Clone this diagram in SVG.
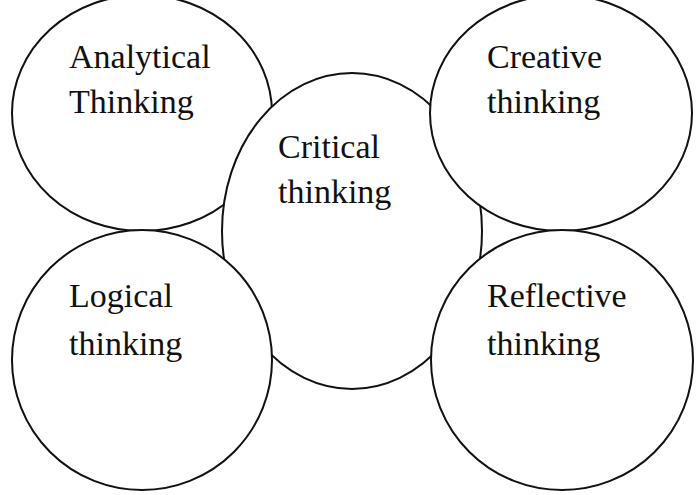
<svg xmlns="http://www.w3.org/2000/svg" width="696" height="495" viewBox="0 0 696 495">
<style>
.n{fill:#fff;stroke:#111;stroke-width:2}
.t{font-family:"Liberation Serif","Times New Roman",serif;font-size:34px;fill:#111}
</style>
<rect width="696" height="495" fill="#fff"/>
<g id="connectors"></g>
<g id="analytical">
<ellipse class="n" cx="142" cy="113" rx="130" ry="118"/>
<text class="t" x="69" y="68">Analytical</text>
<text class="t" x="69" y="113">Thinking</text>
</g>
<g id="critical">
<ellipse class="n" cx="352" cy="231" rx="130" ry="158"/>
<text class="t" x="278" y="158">Critical</text>
<text class="t" x="278" y="203">thinking</text>
</g>
<g id="logical">
<ellipse class="n" cx="142" cy="360" rx="130" ry="130"/>
<text class="t" x="69" y="307">Logical</text>
<text class="t" x="69" y="355">thinking</text>
</g>
<g id="creative">
<ellipse class="n" cx="561" cy="113" rx="131" ry="118"/>
<text class="t" x="487" y="68">Creative</text>
<text class="t" x="487" y="113">thinking</text>
</g>
<g id="reflective">
<ellipse class="n" cx="562" cy="360" rx="131" ry="130"/>
<text class="t" x="487" y="307">Reflective</text>
<text class="t" x="487" y="355">thinking</text>
</g>
</svg>
